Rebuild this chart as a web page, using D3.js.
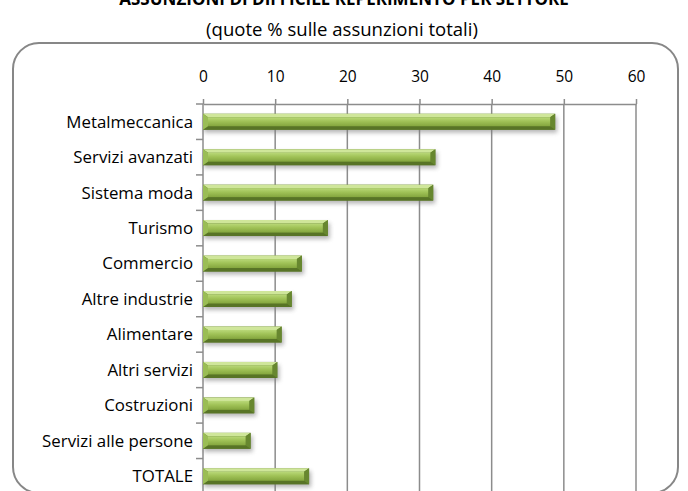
<!DOCTYPE html>
<html>
<head>
<meta charset="utf-8">
<script src="https://cdn.jsdelivr.net/npm/d3@7"></script>
<style>
  body { margin: 0; background: #fff; }
  text { font-family: "Open Sans", Lato, sans-serif; fill: #000; }
</style>
</head>
<body>
<div id="chart"></div>
<script>
// Data
const categories = [
  "Metalmeccanica", "Servizi avanzati", "Sistema moda", "Turismo", "Commercio",
  "Altre industrie", "Alimentare", "Altri servizi", "Costruzioni",
  "Servizi alle persone", "TOTALE"
];
const values = [48.8, 32.2, 31.9, 17.3, 13.7, 12.3, 10.9, 10.3, 7.1, 6.6, 14.7];
const xTicks = [0, 10, 20, 30, 40, 50, 60];
const title = "ASSUNZIONI DI DIFFICILE REPERIMENTO PER SETTORE";
const subtitle = "(quote % sulle assunzioni totali)";

const width = 688, height = 491;
const plot = { left: 203, right: 636, top: 104, bottom: 494 };

const svg = d3.select("#chart").append("svg")
  .attr("width", width)
  .attr("height", height);

// shrink/grow a text so that it is as wide as in the reference
function fitWidth(sel, target) {
  const w = sel.node().getComputedTextLength();
  const fs = parseFloat(sel.style("font-size"));
  sel.style("font-size", (fs * target / w).toFixed(2) + "px");
}

const defs = svg.append("defs");
const faceGrad = defs.append("linearGradient")
  .attr("id", "face")
  .attr("x1", 0).attr("y1", 0).attr("x2", 0).attr("y2", 1);
faceGrad.append("stop").attr("offset", "0%").attr("stop-color", "#b9d878");
faceGrad.append("stop").attr("offset", "45%").attr("stop-color", "#a0c257");
faceGrad.append("stop").attr("offset", "100%").attr("stop-color", "#84a63e");

const blur = defs.append("filter")
  .attr("id", "shadow")
  .attr("x", "-10%").attr("y", "-50%")
  .attr("width", "120%").attr("height", "200%");
blur.append("feGaussianBlur").attr("stdDeviation", 2.2);

// Titles
const titleText = svg.append("text")
  .attr("x", 344)
  .attr("y", 5)
  .attr("text-anchor", "middle")
  .style("font-size", "15px")
  .style("font-weight", "bold")
  .text(title);
fitWidth(titleText, 450);

const subText = svg.append("text")
  .attr("x", 342)
  .attr("y", 36)
  .attr("text-anchor", "middle")
  .style("font-size", "16px")
  .text(subtitle);
fitWidth(subText, 272);

// Rounded chart area border
svg.append("rect")
  .attr("x", 13)
  .attr("y", 43)
  .attr("width", 665)
  .attr("height", 450)
  .attr("rx", 26)
  .attr("fill", "none")
  .attr("stroke", "#878787")
  .attr("stroke-width", 2);

// Scales
const x = d3.scaleLinear().domain([0, 60]).range([plot.left, plot.right]);
const y = d3.scaleBand().domain(categories).range([plot.top, plot.bottom]).paddingInner(0.55).paddingOuter(0.275);
const yBand = d3.scaleBand().domain(categories).range([plot.top, plot.bottom]);

// Vertical gridlines
svg.append("g")
  .selectAll("line")
  .data(xTicks.slice(1))
  .join("line")
  .attr("x1", d => x(d)).attr("x2", d => x(d))
  .attr("y1", plot.top).attr("y2", plot.bottom)
  .attr("stroke", "#8c8c8c")
  .attr("stroke-width", 1.5);

// Top value axis
const xAxis = svg.append("g")
  .attr("transform", `translate(0,${plot.top})`)
  .call(d3.axisTop(x).tickValues(xTicks).tickSize(5).tickPadding(17).tickSizeOuter(0));
xAxis.select(".domain").attr("stroke", "#8c8c8c").attr("stroke-width", 1.5);
xAxis.selectAll(".tick line").attr("stroke", "#8c8c8c").attr("stroke-width", 1.5);
xAxis.selectAll("text")
  .attr("font-family", null)
  .attr("font-size", null)
  .style("font-size", "15.5px")
  .attr("fill", "#000");

// Left category axis: ticks at band boundaries
const yAxis = svg.append("g").attr("transform", `translate(${plot.left},0)`);
yAxis.append("line")
  .attr("x1", 0).attr("x2", 0)
  .attr("y1", plot.top).attr("y2", plot.bottom)
  .attr("stroke", "#8c8c8c").attr("stroke-width", 1.5);
yAxis.selectAll(".ytick")
  .data(categories)
  .join("line")
  .attr("class", "ytick")
  .attr("x1", -7).attr("x2", 0)
  .attr("y1", d => yBand(d)).attr("y2", d => yBand(d))
  .attr("stroke", "#8c8c8c").attr("stroke-width", 1.5);
const labels = yAxis.selectAll(".ylabel")
  .data(categories)
  .join("text")
  .attr("class", "ylabel")
  .attr("x", -10)
  .attr("y", d => yBand(d) + yBand.bandwidth() / 2)
  .attr("dy", "0.35em")
  .attr("text-anchor", "end")
  .style("font-size", "15px")
  .text(d => d);
// size labels from the widest one
const widest = labels.filter(d => d === "Servizi alle persone");
fitWidth(widest, 151);
labels.style("font-size", widest.style("font-size"));

// Bevelled bars
const data = categories.map((c, i) => ({ cat: c, value: values[i] }));
const bars = svg.append("g").selectAll("g")
  .data(data)
  .join("g");

const bx = 5, by = 3.5;
function geom(d) {
  const x0 = x(0), x1 = x(d.value), y0 = y(d.cat), y1 = y(d.cat) + y.bandwidth();
  return { x0, x1, y0, y1 };
}
const pts = arr => arr.map(p => p.join(",")).join(" ");

bars.append("rect")
  .attr("x", d => geom(d).x0 + 1)
  .attr("y", d => geom(d).y0 + 3)
  .attr("width", d => geom(d).x1 - geom(d).x0 + 1)
  .attr("height", y.bandwidth())
  .attr("fill", "#7a7a7a")
  .attr("opacity", 0.55)
  .attr("filter", "url(#shadow)");

bars.append("rect")
  .attr("x", d => geom(d).x0)
  .attr("y", d => geom(d).y0)
  .attr("width", d => geom(d).x1 - geom(d).x0)
  .attr("height", y.bandwidth())
  .attr("fill", "#5e7c2b");

bars.append("polygon") // top bevel
  .attr("points", d => { const g = geom(d); return pts([[g.x0, g.y0], [g.x1, g.y0], [g.x1 - bx, g.y0 + by], [g.x0 + bx, g.y0 + by]]); })
  .attr("fill", "#cfe69a");
bars.append("polygon") // bottom bevel
  .attr("points", d => { const g = geom(d); return pts([[g.x0, g.y1], [g.x1, g.y1], [g.x1 - bx, g.y1 - by], [g.x0 + bx, g.y1 - by]]); })
  .attr("fill", "#587426");
bars.append("polygon") // left bevel
  .attr("points", d => { const g = geom(d); return pts([[g.x0, g.y0], [g.x0 + bx, g.y0 + by], [g.x0 + bx, g.y1 - by], [g.x0, g.y1]]); })
  .attr("fill", "#9abd55");
bars.append("polygon") // right bevel
  .attr("points", d => { const g = geom(d); return pts([[g.x1, g.y0], [g.x1 - bx, g.y0 + by], [g.x1 - bx, g.y1 - by], [g.x1, g.y1]]); })
  .attr("fill", "#67872f");
bars.append("rect") // face
  .attr("x", d => geom(d).x0 + bx)
  .attr("y", d => geom(d).y0 + by)
  .attr("width", d => Math.max(0, geom(d).x1 - geom(d).x0 - 2 * bx))
  .attr("height", y.bandwidth() - 2 * by)
  .attr("fill", "url(#face)");
</script>
</body>
</html>
